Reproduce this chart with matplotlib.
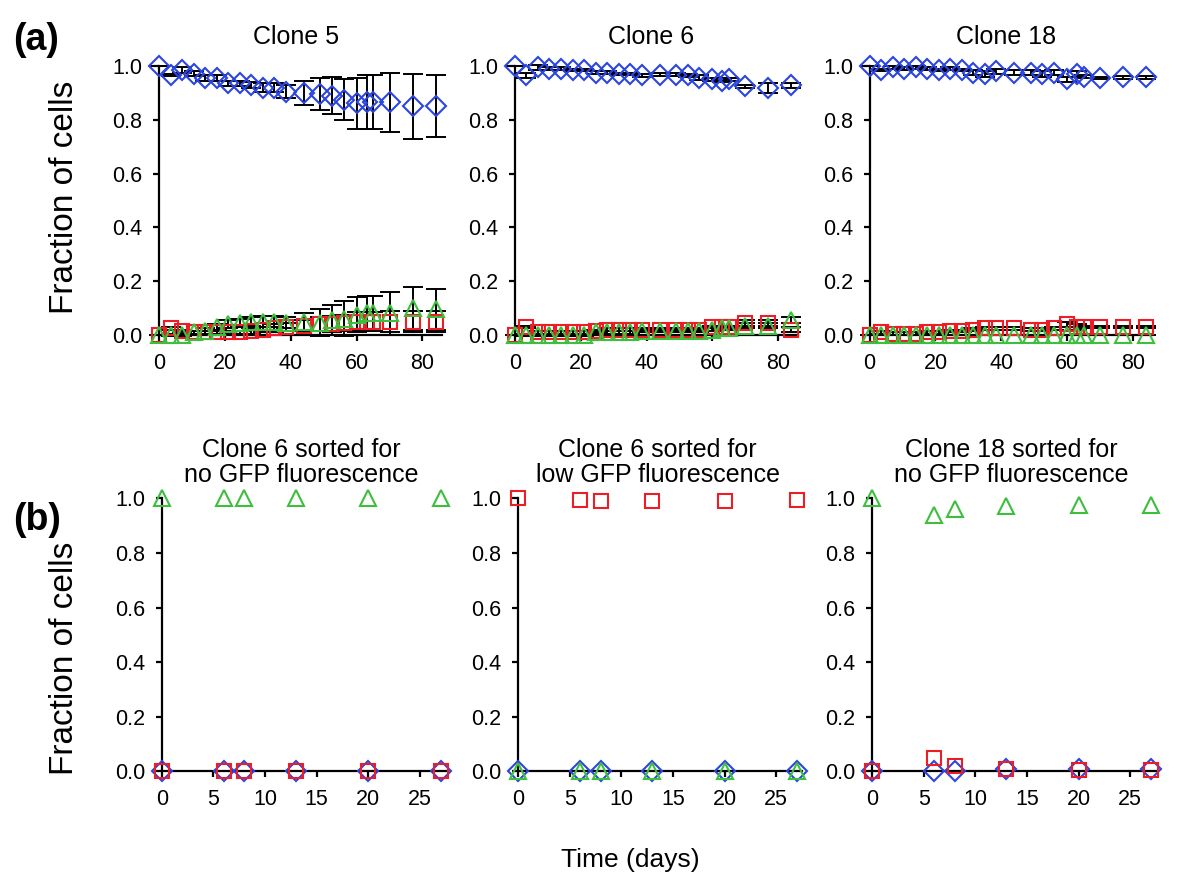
import matplotlib
matplotlib.use("Agg")
import matplotlib.pyplot as plt

plt.rcParams['font.family'] = ['Liberation Sans', 'DejaVu Sans']

# colours of the three populations
BLUE = '#2b45e0'
RED = '#ee1c24'
GREEN = '#3dbf3d'

# ---- panel (a): long term culture ----
days_a = [0, 3.5, 7, 10.5, 14, 17.5, 21, 24.5, 28, 31.5, 35, 38.5, 44, 49, 52.5, 56, 60, 63, 65, 70, 77, 84]

c5_high = [1.0, 0.967, 0.985, 0.972, 0.955, 0.955, 0.935, 0.935, 0.93, 0.92, 0.92, 0.905,
           0.9, 0.895, 0.89, 0.875, 0.862, 0.865, 0.865, 0.865, 0.85, 0.852]
c5_high_err = [0.0, 0.005, 0.01, 0.01, 0.01, 0.01, 0.01, 0.01, 0.01, 0.015, 0.015, 0.025,
               0.045, 0.06, 0.07, 0.075, 0.095, 0.1, 0.1, 0.11, 0.12, 0.115]
c5_low = [0.0, 0.025, 0.015, 0.01, 0.01, 0.01, 0.01, 0.01, 0.015, 0.02, 0.025, 0.03,
          0.035, 0.04, 0.04, 0.045, 0.05, 0.05, 0.05, 0.05, 0.05, 0.05]
c5_low_err = [0.0, 0.005, 0.005, 0.005, 0.005, 0.005, 0.005, 0.005, 0.01, 0.01, 0.015, 0.015,
              0.02, 0.025, 0.03, 0.03, 0.035, 0.035, 0.035, 0.04, 0.04, 0.04]
c5_off = [0.0, 0.0, 0.0, 0.01, 0.015, 0.03, 0.04, 0.045, 0.05, 0.05, 0.05, 0.045,
          0.05, 0.045, 0.055, 0.06, 0.075, 0.08, 0.08, 0.08, 0.1, 0.095]
c5_off_err = [0.0, 0.005, 0.005, 0.005, 0.01, 0.01, 0.015, 0.015, 0.015, 0.02, 0.02, 0.02,
              0.03, 0.05, 0.055, 0.065, 0.065, 0.065, 0.065, 0.08, 0.08, 0.075]

c6_high = [1.0, 0.965, 0.995, 0.99, 0.99, 0.985, 0.985, 0.975, 0.975, 0.97, 0.97, 0.965,
           0.968, 0.968, 0.965, 0.957, 0.95, 0.945, 0.95, 0.925, 0.918, 0.928]
c6_high_err = [0.0, 0.01, 0.01, 0.005, 0.005, 0.005, 0.005, 0.005, 0.005, 0.005, 0.005, 0.005,
               0.005, 0.005, 0.005, 0.01, 0.005, 0.005, 0.005, 0.005, 0.02, 0.01]
c6_low = [0.0, 0.03, 0.01, 0.01, 0.01, 0.01, 0.01, 0.015, 0.02, 0.02, 0.02, 0.02,
          0.02, 0.02, 0.02, 0.02, 0.03, 0.03, 0.03, 0.045, 0.045, 0.02]
c6_low_err = [0.0, 0.005, 0.005, 0.005, 0.005, 0.005, 0.005, 0.005, 0.005, 0.005, 0.005, 0.005,
              0.005, 0.005, 0.005, 0.005, 0.005, 0.005, 0.005, 0.01, 0.01, 0.01]
c6_off = [0.0, 0.0, 0.0, 0.0, 0.0, 0.0, 0.0, 0.01, 0.01, 0.01, 0.01, 0.015,
          0.015, 0.015, 0.015, 0.015, 0.02, 0.025, 0.025, 0.035, 0.035, 0.055]
c6_off_err = [0.0, 0.005, 0.005, 0.005, 0.005, 0.005, 0.005, 0.005, 0.005, 0.005, 0.005, 0.005,
              0.005, 0.005, 0.005, 0.005, 0.005, 0.005, 0.005, 0.01, 0.01, 0.01]

c18_high = [1.0, 0.985, 0.995, 0.99, 0.995, 0.99, 0.985, 0.99, 0.985, 0.975, 0.97, 0.98,
            0.975, 0.975, 0.97, 0.975, 0.95, 0.97, 0.96, 0.955, 0.958, 0.958]
c18_high_err = [0.0, 0.005, 0.005, 0.005, 0.005, 0.005, 0.005, 0.005, 0.005, 0.01, 0.01, 0.01,
                0.01, 0.01, 0.01, 0.01, 0.01, 0.01, 0.005, 0.005, 0.005, 0.005]
c18_low = [0.0, 0.01, 0.005, 0.005, 0.005, 0.01, 0.01, 0.015, 0.015, 0.02, 0.025, 0.025,
           0.025, 0.02, 0.02, 0.025, 0.04, 0.03, 0.03, 0.03, 0.03, 0.03]
c18_low_err = [0.0, 0.005, 0.005, 0.005, 0.005, 0.005, 0.005, 0.005, 0.005, 0.005, 0.005, 0.005,
               0.005, 0.005, 0.005, 0.005, 0.01, 0.01, 0.005, 0.005, 0.005, 0.005]
c18_off = [0.0] * 22
c18_off_err = [0.0] * 22

# ---- panel (b): sorted populations ----
days_b = [0, 6, 8, 13, 20, 27]

b1_high = [0.0, 0.0, 0.0, 0.0, 0.0, 0.0]
b1_low = [0.0, 0.0, 0.0, 0.0, 0.0, 0.0]
b1_off = [1.0, 1.0, 1.0, 1.0, 1.0, 1.0]

b2_high = [0.0, 0.0, 0.0, 0.0, 0.0, 0.0]
b2_low = [1.0, 0.995, 0.99, 0.99, 0.99, 0.995]
b2_off = [0.0, 0.0, 0.0, 0.0, 0.0, 0.0]

b3_high = [0.0, 0.0, 0.0, 0.01, 0.01, 0.01]
b3_low = [0.0, 0.05, 0.02, 0.01, 0.005, 0.005]
b3_off = [1.0, 0.94, 0.96, 0.97, 0.975, 0.975]

titles_a = ['Clone 5', 'Clone 6', 'Clone 18']
titles_b = ['Clone 6 sorted for\nno GFP fluorescence',
            'Clone 6 sorted for\nlow GFP fluorescence',
            'Clone 18 sorted for\nno GFP fluorescence']

fig = plt.figure(figsize=(12, 8.91), dpi=100)

lefts_a = [0.119, 0.4154, 0.711]
lefts_b = [0.122, 0.419, 0.714]


def style_axis(ax, xmax, xticks):
    for s in ['top', 'right']:
        ax.spines[s].set_visible(False)
    ax.spines['left'].set_position(('data', 0))
    ax.spines['bottom'].set_position(('data', 0))
    ax.spines['left'].set_bounds(0, 1)
    ax.spines['bottom'].set_bounds(0, xmax)
    for s in ['left', 'bottom']:
        ax.spines[s].set_linewidth(1.6)
    ax.set_yticks([0, 0.2, 0.4, 0.6, 0.8, 1.0])
    ax.set_yticklabels(['0.0', '0.2', '0.4', '0.6', '0.8', '1.0'])
    ax.set_xticks(xticks)
    ax.tick_params(direction='out', length=4, width=1.6, labelsize=15.5)
    ax.tick_params(axis='y', pad=8)
    ax.tick_params(axis='x', pad=9)
    ax.set_ylim(-0.04, 1.04)
    ax.patch.set_visible(False)


def draw_series(ax, x, y, err, marker, color, ms):
    if err is not None:
        ax.errorbar(x, y, yerr=err, fmt='none', ecolor='black', elinewidth=1.4,
                    capsize=7, capthick=1.4, clip_on=False, zorder=2)
    ax.plot(x, y, linestyle='none', marker=marker, markersize=ms, markerfacecolor='none',
            markeredgecolor=color, markeredgewidth=1.5, clip_on=False, zorder=3)


series_a = [
    (c5_high, c5_high_err, c5_low, c5_low_err, c5_off, c5_off_err),
    (c6_high, c6_high_err, c6_low, c6_low_err, c6_off, c6_off_err),
    (c18_high, c18_high_err, c18_low, c18_low_err, c18_off, c18_off_err),
]

for i in range(3):
    ax = fig.add_axes([lefts_a[i], 0.612, 0.255, 0.326])
    hi, hie, lo, loe, off, offe = series_a[i]
    draw_series(ax, days_a, hi, hie, 'D', BLUE, 10)
    draw_series(ax, days_a, lo, loe, 's', RED, 9.5)
    draw_series(ax, days_a, off, offe, '^', GREEN, 11)
    ax.set_xlim(-5, 88)
    style_axis(ax, 86, [0, 20, 40, 60, 80])
    ax.set_title(titles_a[i], fontsize=18, pad=8)
    if i == 0:
        ax.set_ylabel('Fraction of cells', fontsize=24)
        ax.yaxis.set_label_coords(-0.205, 0.51)

series_b = [(b1_high, b1_low, b1_off), (b2_high, b2_low, b2_off), (b3_high, b3_low, b3_off)]

for i in range(3):
    ax = fig.add_axes([lefts_b[i], 0.122, 0.258, 0.331])
    hi, lo, off = series_b[i]
    draw_series(ax, days_b, hi, None, 'D', BLUE, 10.5)
    draw_series(ax, days_b, lo, None, 's', RED, 10)
    draw_series(ax, days_b, off, None, '^', GREEN, 11)
    ax.set_xlim(-1.5, 28.5)
    style_axis(ax, 27.5, [0, 5, 10, 15, 20, 25])
    ax.set_title(titles_b[i], fontsize=18, pad=-2, linespacing=1.05)
    if i == 0:
        ax.set_ylabel('Fraction of cells', fontsize=24)
        ax.yaxis.set_label_coords(-0.216, 0.42)

fig.text(0.011, 0.955, '(a)', fontsize=27, fontweight='bold', va='center')
fig.text(0.011, 0.416, '(b)', fontsize=27, fontweight='bold', va='center')
fig.text(0.525, 0.035, 'Time (days)', fontsize=19, ha='center', va='center')

fig.savefig('out.png', dpi=100)
